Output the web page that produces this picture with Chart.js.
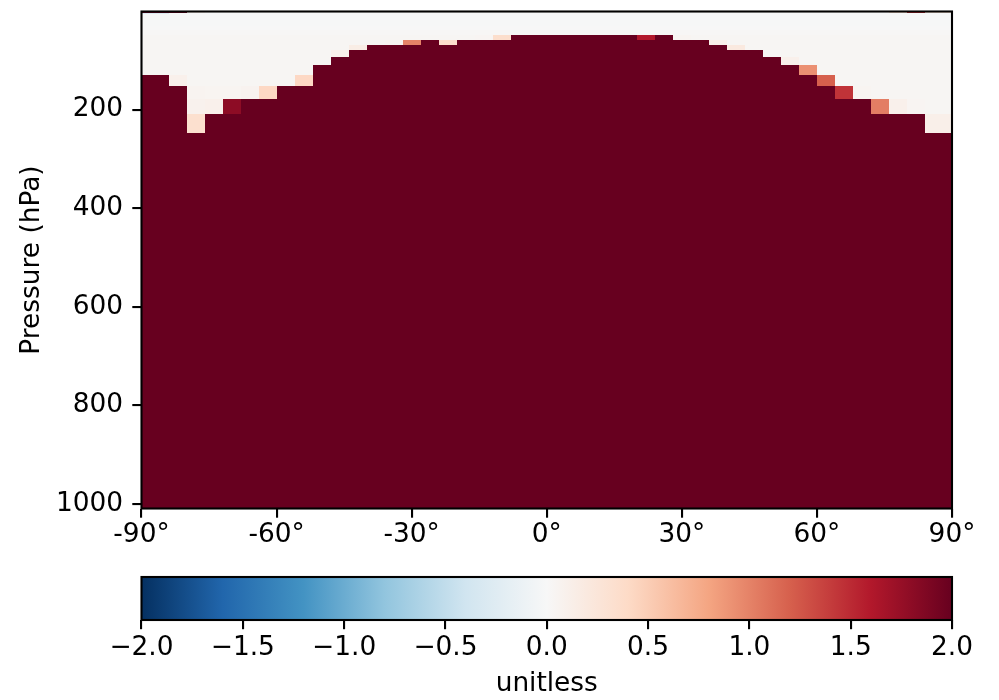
<!DOCTYPE html>
<html><head><meta charset="utf-8">
<script src="https://cdn.jsdelivr.net/npm/chart.js@4.4.1/dist/chart.umd.min.js"></script>
<style>
html,body{margin:0;padding:0;background:#fff;overflow:hidden;}
#stage{position:absolute;left:0;top:0;width:999px;height:700px;}
#stage canvas{position:absolute;left:0;}
#main{top:0;}
#cbar{top:560px;}
</style></head>
<body>
<div id="stage"><canvas id="main" width="999" height="560"></canvas><canvas id="cbar" width="999" height="140"></canvas></div>
<script>
// ---------- data ----------
const latEdges = [-90,-84,-80,-76,-72,-68,-64,-60,-56,-52,-48,-44,-40,-36,-32,-28,-24,-20,-16,-12,-8,-4,0,4,8,12,16,20,24,28,32,36,40,44,48,52,56,60,64,68,72,76,80,84,90];
const presEdges = [1,3.5,6,9,13,18,24,30,38,49,59,69,79,93,110,130,152,178,209,247,300,400,500,600,700,800,900,1009];
// first row (index into presEdges rows) where each latitude column is saturated
const darkFromRow = [15,16,19,18,18,17,17,16,16,14,13,12,11,11,11,10,11,10,10,10,9,9,9,9,9,9,9,10,9,10,10,11,12,12,13,14,15,16,17,17,18,18,18,19];
const belowValue = 2.4;
// values of the upper (stratospheric) rows
const upperValue = [0.02,-0.02,-0.02,-0.02,-0.02,-0.01,-0.01,0.0,0.02,0.03,0.03,0.03,0.03,0.03,0.03,0.03,0.03,0.03,0.03];
// individual cells [column, row, value]
const edgeCells = [
  [0,0,2.0],[1,0,2.0],[2,0,0.1],[41,0,0.3],[42,0,1.5],[43,0,0.25],[0,1,-0.3],
  [1,15,0.1],
  [2,16,0.06],[2,17,0.08],[2,18,0.33],
  [3,16,0.05],[3,17,0.1],
  [4,16,0.05],[4,17,1.8],
  [5,16,0.07],
  [6,16,0.42],
  [8,15,0.42],
  [9,13,0.03],
  [10,12,0.1],
  [11,11,0.15],
  [13,10,0.05],
  [14,10,1.0],
  [16,10,0.36],
  [18,9,0.04],
  [19,9,0.36],
  [27,9,1.6],
  [29,9,0.05],
  [31,10,0.12],
  [32,11,0.2],
  [34,12,0.02],
  [35,13,0.1],
  [36,14,0.92],
  [37,14,0.03],[37,15,1.2],
  [38,16,1.45],
  [39,16,0.05],
  [40,17,1.03],
  [41,17,0.1],
  [42,17,0.04],
  [43,18,0.12]
];
const latTicks = [-90,-60,-30,0,30,60,90];
const presTicks = [200,400,600,800,1000];
const cbarTicks = [-2,-1.5,-1,-0.5,0,0.5,1,1.5,2];
const vmin = -2, vmax = 2;
const rdbuR = ['#053061','#2166ac','#4393c3','#92c5de','#d1e5f0','#f7f7f7','#fddbc7','#f4a582','#d6604d','#b2182b','#67001f'];

// ---------- build value table ----------
const nRows = presEdges.length - 1, nCols = latEdges.length - 1;
const grid = [];
for (let r = 0; r < nRows; r++) {
  const row = [];
  for (let c = 0; c < nCols; c++) row.push(r >= darkFromRow[c] ? belowValue : upperValue[r]);
  grid.push(row);
}
edgeCells.forEach(([c, r, v]) => { grid[r][c] = v; });

function hex2rgb(h){return [parseInt(h.slice(1,3),16),parseInt(h.slice(3,5),16),parseInt(h.slice(5,7),16)];}
const stops = rdbuR.map(hex2rgb);
function colorFor(v){
  let t = (v - vmin) / (vmax - vmin);
  t = Math.max(0, Math.min(1, t));
  const p = t * (stops.length - 1);
  const i = Math.min(stops.length - 2, Math.floor(p));
  const f = p - i;
  const a = stops[i], b = stops[i+1];
  return 'rgb(' + [0,1,2].map(k => Math.round(a[k] + (b[k]-a[k]) * f)).join(',') + ')';
}

Chart.defaults.font.family = '"DejaVu Sans", sans-serif';
Chart.defaults.font.size = 26.4;
Chart.defaults.color = '#000';

const heatmap = {
  id: 'heatmap',
  beforeDatasetsDraw(chart) {
    const {ctx, chartArea: a, scales: {x, y}} = chart;
    ctx.save();
    ctx.beginPath(); ctx.rect(a.left, a.top, a.right - a.left, a.bottom - a.top); ctx.clip();
    const xs = latEdges.map(v => Math.round(x.getPixelForValue(v)));
    const ys = presEdges.map(v => Math.round(y.getPixelForValue(v)));
    xs[0] = Math.floor(a.left); xs[xs.length-1] = Math.ceil(a.right);
    ys[0] = Math.floor(a.top); ys[ys.length-1] = Math.ceil(a.bottom);
    for (let r = 0; r < nRows; r++) {
      const y0 = ys[r], y1 = ys[r+1];
      if (y1 <= y0) continue;
      for (let c = 0; c < nCols; c++) {
        ctx.fillStyle = colorFor(grid[r][c]);
        ctx.fillRect(xs[c], y0, xs[c+1] - xs[c], y1 - y0);
      }
    }
    ctx.restore();
  },
  afterDraw(chart) {
    const {ctx, chartArea: a} = chart;
    ctx.save();
    ctx.strokeStyle = '#000'; ctx.lineWidth = 2.1;
    ctx.strokeRect(a.left, a.top, a.right - a.left, a.bottom - a.top);
    ctx.restore();
  }
};

const tickGrid = {drawOnChartArea: false, drawTicks: true, tickLength: 9.2, tickColor: '#000', tickWidth: 2.1, lineWidth: 2.1};
const noPad = s => { s.paddingTop = 0; s.paddingBottom = 0; s.paddingLeft = 0; s.paddingRight = 0; };

new Chart(document.getElementById('main'), {
  type: 'scatter',
  data: {datasets: [{data: []}]},
  options: {
    responsive: false, animation: false, devicePixelRatio: 1,
    layout: {padding: {left: 0, right: 47, top: 11.5, bottom: 0}},
    plugins: {legend: {display: false}, tooltip: {enabled: false}},
    scales: {
      x: {
        type: 'linear', min: -90, max: 90,
        afterBuildTicks: s => { s.ticks = latTicks.map(v => ({value: v})); },
        afterFit: s => { s.height = 51.5; noPad(s); },
        ticks: {autoSkip: false, maxRotation: 0, padding: 2, callback: v => String(v) + '\u00b0'},
        grid: tickGrid, border: {display: false}
      },
      y: {
        type: 'linear', min: 1, max: 1009, reverse: true,
        afterBuildTicks: s => { s.ticks = presTicks.map(v => ({value: v})); },
        afterFit: s => { s.width = 141.5; noPad(s); },
        ticks: {autoSkip: false, padding: 9.2, labelOffset: 0, callback: v => String(v)},
        grid: tickGrid, border: {display: false},
        title: {display: true, text: 'Pressure (hPa)', padding: {top: 16.5, bottom: 0}}
      }
    }
  },
  plugins: [heatmap]
});

const colorbar = {
  id: 'colorbar',
  beforeDatasetsDraw(chart) {
    const {ctx, chartArea: a, scales: {x}} = chart;
    const g = ctx.createLinearGradient(x.getPixelForValue(vmin), 0, x.getPixelForValue(vmax), 0);
    rdbuR.forEach((c, i) => g.addColorStop(i / (rdbuR.length - 1), c));
    ctx.save();
    ctx.fillStyle = g;
    ctx.fillRect(a.left, a.top, a.right - a.left, a.bottom - a.top);
    ctx.strokeStyle = '#000'; ctx.lineWidth = 2.1;
    ctx.strokeRect(a.left, a.top, a.right - a.left, a.bottom - a.top);
    ctx.restore();
  }
};

new Chart(document.getElementById('cbar'), {
  type: 'scatter',
  data: {datasets: [{data: []}]},
  options: {
    responsive: false, animation: false, devicePixelRatio: 1,
    layout: {padding: {left: 141.5, right: 47, top: 17, bottom: 0}},
    plugins: {legend: {display: false}, tooltip: {enabled: false}},
    scales: {
      x: {
        type: 'linear', min: vmin, max: vmax,
        afterBuildTicks: s => { s.ticks = cbarTicks.map(v => ({value: v})); },
        afterFit: s => { s.height = 80; noPad(s); },
        ticks: {autoSkip: false, maxRotation: 0, padding: 3.5,
          callback: v => (v < 0 ? '\u2212' : '') + Math.abs(v).toFixed(1)},
        grid: tickGrid, border: {display: false},
        title: {display: true, text: 'unitless', padding: {top: 0, bottom: 0}}
      },
      y: {display: false, min: 0, max: 1}
    }
  },
  plugins: [colorbar]
});
</script>
</body></html>
